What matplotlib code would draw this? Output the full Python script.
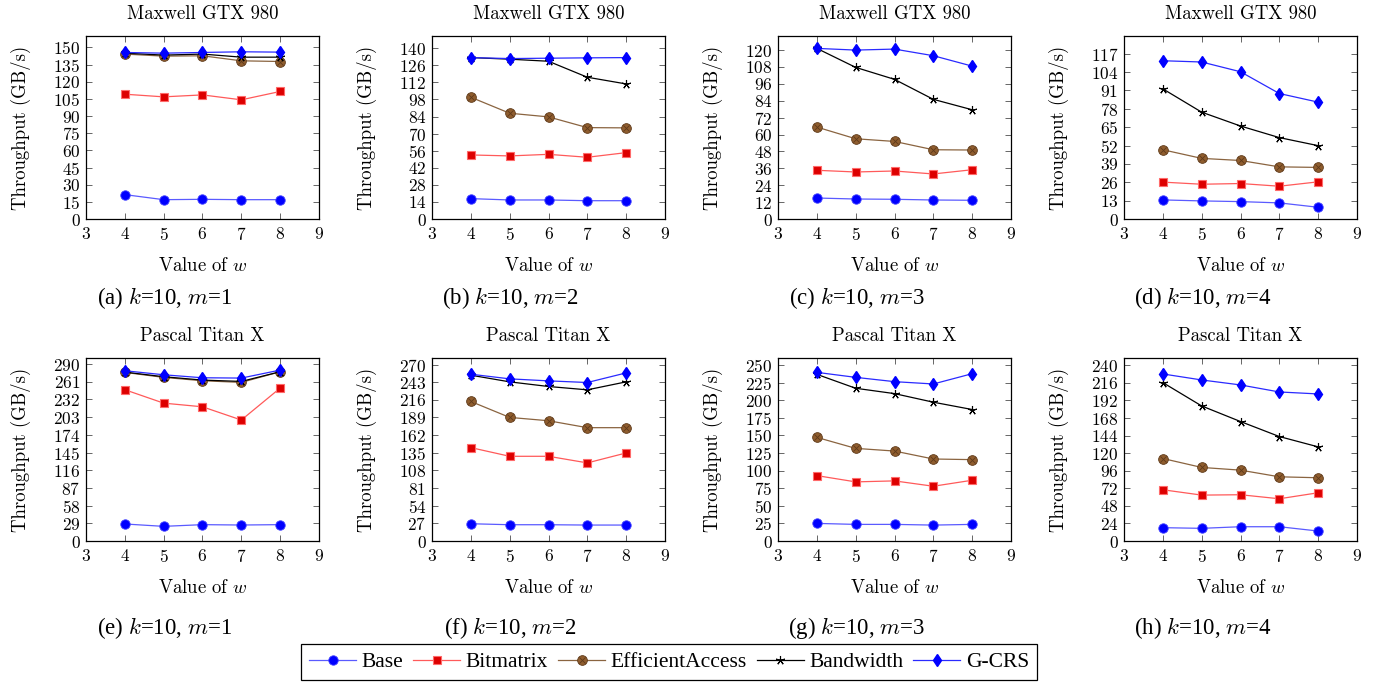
import numpy as np
import matplotlib.pyplot as plt
from matplotlib.legend_handler import HandlerTuple

plt.rcParams['font.family'] = 'cmr10'
plt.rcParams['mathtext.fontset'] = 'cm'
plt.rcParams['axes.formatter.use_mathtext'] = True

w_values = [4, 5, 6, 7, 8]

panel_titles = ["Maxwell GTX 980"] * 4 + ["Pascal Titan X"] * 4
panel_letters = ["a", "b", "c", "d", "e", "f", "g", "h"]
panel_m = [1, 2, 3, 4, 1, 2, 3, 4]
y_steps = [15, 14, 12, 13, 29, 27, 25, 24]
y_tick_counts = [11, 11, 11, 10, 11, 11, 11, 11]
y_tops = [160, 150, 130, 129.5, 300, 280, 260, 250]

# throughput (GB/s), one row per panel (a..h), columns w=4..8
base = [
    [21.3, 16.9, 17.2, 16.9, 16.9],
    [16.7, 15.6, 15.6, 15.0, 15.0],
    [14.9, 14.2, 14.0, 13.5, 13.3],
    [13.5, 12.8, 12.3, 11.4, 8.3],
    [27.9, 24.0, 26.8, 26.2, 26.8],
    [26.4, 24.9, 24.9, 24.4, 24.4],
    [25.0, 23.6, 23.6, 22.6, 23.6],
    [18.2, 17.3, 19.5, 19.5, 13.6],
]
bitmatrix = [
    [109.1, 106.8, 108.5, 104.2, 111.5],
    [52.5, 51.7, 53.0, 50.6, 54.4],
    [34.6, 33.4, 34.1, 32.0, 35.0],
    [26.1, 24.6, 25.1, 23.2, 26.3],
    [248.0, 226.0, 220.0, 198.3, 250.7],
    [142.9, 129.6, 129.6, 119.5, 134.7],
    [92.9, 84.0, 85.4, 77.8, 86.3],
    [70.0, 62.7, 63.2, 57.7, 65.9],
]
efficient_access = [
    [144.2, 142.4, 142.7, 138.3, 137.7],
    [99.8, 86.7, 83.7, 74.9, 74.7],
    [65.3, 57.0, 55.1, 49.2, 49.0],
    [49.0, 42.9, 41.4, 36.9, 36.5],
    [276.4, 268.2, 262.7, 260.0, 277.5],
    [213.5, 189.1, 184.0, 173.4, 173.4],
    [147.2, 131.6, 127.8, 116.5, 115.6],
    [112.7, 100.5, 96.8, 87.7, 86.4],
]
bandwidth = [
    [145.0, 143.3, 144.2, 141.5, 141.5],
    [132.3, 131.0, 129.3, 116.2, 110.7],
    [121.2, 107.7, 99.2, 85.0, 77.6],
    [92.1, 75.6, 65.8, 57.6, 51.9],
    [276.9, 269.3, 263.8, 261.6, 277.5],
    [253.7, 243.5, 236.4, 231.3, 243.5],
    [236.8, 217.0, 209.4, 197.2, 186.8],
    [216.4, 184.5, 163.2, 142.7, 128.6],
]
g_crs = [
    [145.6, 145.0, 145.6, 146.2, 145.9],
    [132.3, 131.5, 131.8, 132.1, 132.3],
    [121.2, 120.0, 120.7, 116.0, 108.6],
    [112.0, 111.1, 104.2, 88.8, 82.7],
    [279.1, 272.5, 267.6, 267.1, 280.2],
    [255.2, 248.1, 245.0, 242.5, 257.2],
    [239.6, 232.5, 226.4, 223.1, 237.7],
    [228.2, 220.0, 213.2, 203.6, 200.9],
]

W, H = 1380, 686
fig = plt.figure(figsize=(W / 100, H / 100), dpi=100)

lefts = [86, 432, 778, 1124]
bottoms = [219, 541]
ax_w, ax_h = 233, 183
cap_y = [298, 628]

handles = None
for i in range(8):
    row, col = divmod(i, 4)
    ax = fig.add_axes([lefts[col] / W, (H - bottoms[row]) / H, ax_w / W, ax_h / H])

    h_base, = ax.plot(w_values, base[i], color='#5a5aff', lw=0.9, marker='o', ms=6.8,
                      mfc='#0000ff', mec='#4444ff', mew=0.6)
    h_bit, = ax.plot(w_values, bitmatrix[i], color='#ff5a5a', lw=0.9, marker='s', ms=6,
                     mfc='#dd0000', mec='#ff6a6a', mew=0.8)
    h_ea, = ax.plot(w_values, efficient_access[i], color='#8a6440', lw=0.9, marker='o', ms=7,
                    mfc='#8f5d2e', mec='#5e3a1a', mew=0.6)
    h_ea_x, = ax.plot(w_values, efficient_access[i], ls='none', marker='x', ms=4.4,
                      mec='#5e3a1a', mew=0.6)
    h_bw, = ax.plot(w_values, bandwidth[i], color='black', lw=0.9, marker=(5, 2, 0), ms=6.5,
                    mec='black', mew=0.8)
    h_gcrs, = ax.plot(w_values, g_crs[i], color='#2a2aff', lw=0.9, marker='d', ms=6,
                      mfc='#0000ff', mec='#0000ff')
    if handles is None:
        handles = [h_base, h_bit, (h_ea, h_ea_x), h_bw, h_gcrs]

    ax.set_xlim(3, 9)
    ax.set_ylim(0, y_tops[i])
    ax.set_xticks(range(3, 10))
    ax.set_yticks([k * y_steps[i] for k in range(y_tick_counts[i])])
    ax.tick_params(direction='in', top=True, right=True, length=4, width=0.7,
                   color='#666666', labelsize=12.5)
    ax.tick_params(axis='y', pad=4)
    ax.tick_params(axis='x', pad=5)
    for sp in ax.spines.values():
        sp.set_linewidth(0.9)

    ax.set_title(panel_titles[i], fontsize=13.5, pad=12)
    ax.set_xlabel('Value of $w$', fontsize=13.5, labelpad=10)
    ax.set_ylabel('Throughput (GB/s)', fontsize=13.5, labelpad=16)

    cx = lefts[col] + ax_w / 2 - 38
    fig.text(cx / W, 1 - cap_y[row] / H,
             f'({panel_letters[i]}) $k$=10, $m$={panel_m[i]}',
             ha='center', va='center', fontsize=16.5, family='Liberation Serif')

leg = fig.legend(handles, ['Base', 'Bitmatrix', 'EfficientAccess', 'Bandwidth', 'G-CRS'],
                 loc='center', bbox_to_anchor=(669 / W, 1 - 662 / H), ncol=5,
                 handler_map={tuple: HandlerTuple(ndivide=1)},
                 frameon=True, fancybox=False, edgecolor='black', framealpha=1,
                 prop={'family': 'Liberation Serif', 'size': 15.5},
                 handlelength=2.2, handletextpad=0.25, columnspacing=0.45,
                 borderpad=0.35, borderaxespad=0)
leg.get_frame().set_linewidth(0.9)

fig.savefig('out.png', dpi=100)
